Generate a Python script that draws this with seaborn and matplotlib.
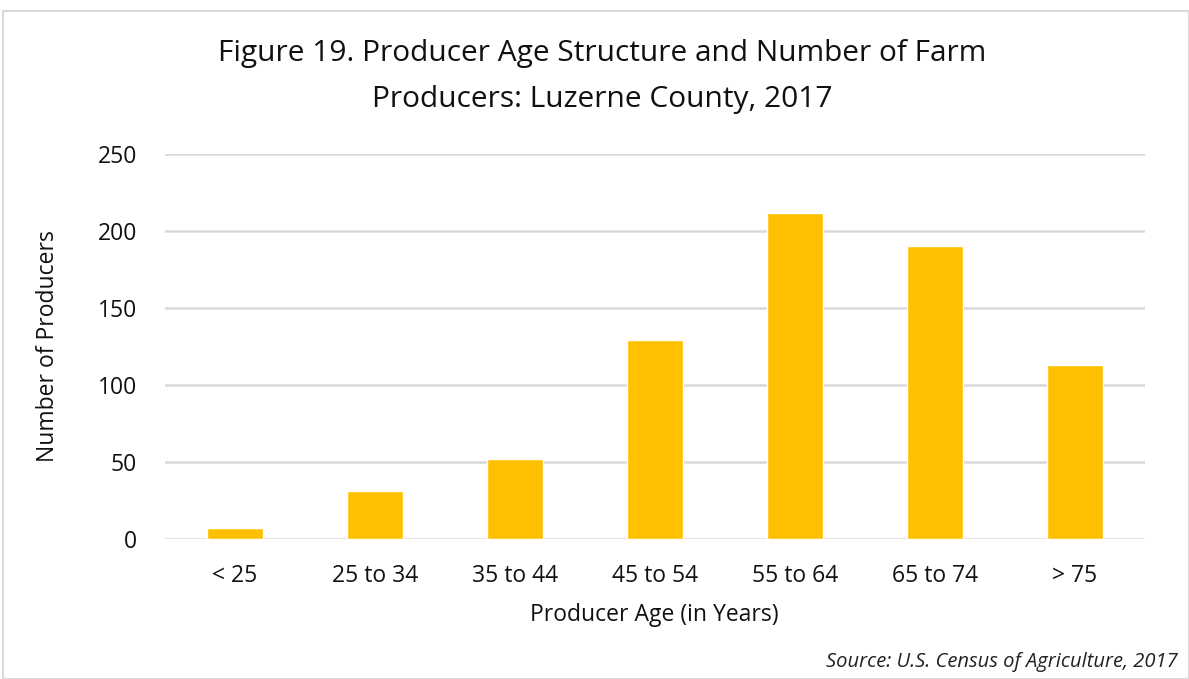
import matplotlib
matplotlib.use("Agg")
import matplotlib.pyplot as plt
import seaborn as sns
import pandas as pd
from matplotlib.patches import Rectangle

age_groups = ["< 25", "25 to 34", "35 to 44", "45 to 54", "55 to 64", "65 to 74", "> 75"]
producers = [7, 31, 52, 129, 212, 190, 113]

df = pd.DataFrame({"age": age_groups, "producers": producers})

sns.set_style("white")
plt.rcParams["font.family"] = ["Open Sans", "DejaVu Sans"]

fig = plt.figure(figsize=(11.89, 6.79), dpi=100)
ax = fig.add_axes([164.8 / 1189, 1 - 539 / 679, 980 / 1189, 385 / 679])

sns.barplot(data=df, x="age", y="producers", color="#FFC000", width=0.4,
            saturation=1, ax=ax, zorder=3)

ax.set_ylim(0, 250)
ax.set_xlim(-0.5, len(age_groups) - 0.5)
ax.set_yticks(range(0, 251, 50))
ax.yaxis.grid(True, color="#D9D9D9", linewidth=1.8, zorder=0)
ax.set_axisbelow(True)
for s in ax.spines.values():
    s.set_visible(False)
ax.tick_params(axis="both", length=0, labelsize=16.5, colors="#111111")
ax.tick_params(axis="x", pad=18)
ax.tick_params(axis="y", pad=20)
ax.set_xlabel("Producer Age (in Years)", fontsize=16.5, color="#111111", labelpad=11)
ax.set_ylabel("Number of Producers", fontsize=16.5, color="#111111", labelpad=27)

fig.text(602 / 1189, 1 - 53 / 679, "Figure 19. Producer Age Structure and Number of Farm",
         ha="center", va="center", fontsize=21.5, color="#111111")
fig.text(602 / 1189, 1 - 99 / 679, "Producers: Luzerne County, 2017",
         ha="center", va="center", fontsize=21.5, color="#111111")
fig.text(1178 / 1189, 1 - 662 / 679, "Source: U.S. Census of Agriculture, 2017",
         ha="right", va="center", fontsize=14.5, style="italic", color="#222222")

fig.patches.append(Rectangle((3 / 1189, 0), 1186 / 1189, 1 - 11 / 679,
                             transform=fig.transFigure, fill=False,
                             edgecolor="#D9D9D9", linewidth=1.5))

fig.savefig("out.png", dpi=100)
